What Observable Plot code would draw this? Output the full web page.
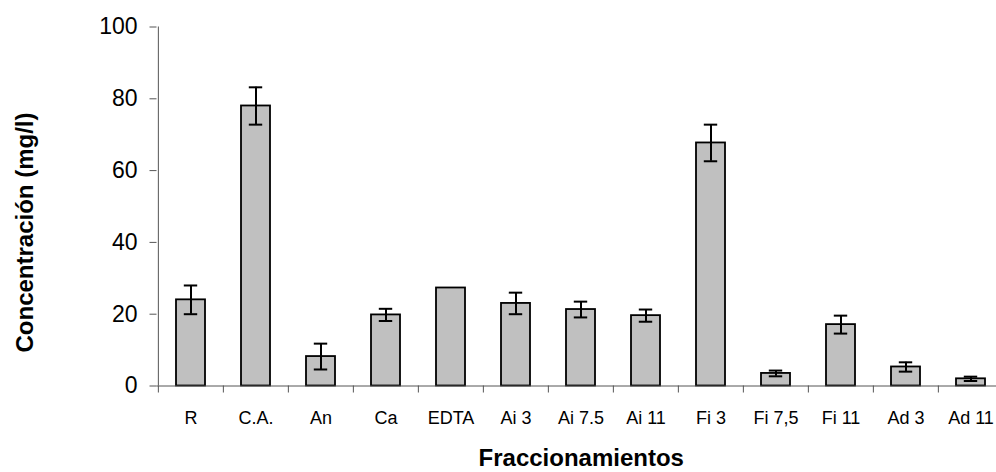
<!DOCTYPE html>
<html>
<head>
<meta charset="utf-8">
<script src="https://cdn.jsdelivr.net/npm/d3@7"></script>
<script src="https://cdn.jsdelivr.net/npm/@observablehq/plot@0.6"></script>
<style>
  html, body { margin: 0; padding: 0; background: #fff; overflow: hidden; }
  #chart { width: 996px; height: 472px; overflow: hidden; }
  svg { font-family: "Liberation Sans", Arial, sans-serif; }
</style>
</head>
<body>
<div id="chart"></div>
<script>
// Concentración media por fraccionamiento, con desviación (mg/l)
const categories = ["R", "C.A.", "An", "Ca", "EDTA", "Ai 3", "Ai 7.5", "Ai 11", "Fi 3", "Fi 7,5", "Fi 11", "Ad 3", "Ad 11"];
const values = [24, 78, 8.2, 19.8, 27.3, 23, 21.3, 19.6, 67.7, 3.5, 17.1, 5.3, 2];
const errors = [4, 5.2, 3.6, 1.7, 0, 3, 2.2, 1.7, 5.1, 0.8, 2.5, 1.3, 0.6];
const yTicks = [0, 20, 40, 60, 80, 100];

const data = categories.map((c, i) => ({cat: c, value: values[i], err: errors[i]}));
const withErr = data.filter(d => d.err > 0);

const width = 996, height = 472;
const marginLeft = 156.5, marginRight = -9, marginTop = 26.5, marginBottom = 86.5;
const step = (width - marginLeft - marginRight) / categories.length;
const axisColor = "#555";

const chart = Plot.plot({
  width, height, marginLeft, marginRight, marginTop, marginBottom,
  style: {fontFamily: "'Liberation Sans', Arial, sans-serif", background: "#fff", overflow: "hidden"},
  x: {type: "band", domain: categories, paddingInner: 0.56, paddingOuter: 0.28, axis: null},
  y: {domain: [0, 100], ticks: yTicks, axis: null},
  marks: [
    // bars
    Plot.barY(data, {x: "cat", y: "value", fill: "#c0c0c0", stroke: "#000", strokeWidth: 1.8}),
    // error bars: whiskers and caps
    Plot.ruleX(withErr, {x: "cat", y1: d => d.value - d.err, y2: d => d.value + d.err, stroke: "#000", strokeWidth: 2}),
    Plot.tickY(withErr, {x: "cat", y: d => d.value - d.err, stroke: "#000", strokeWidth: 2, insetLeft: 7.8, insetRight: 7.8}),
    Plot.tickY(withErr, {x: "cat", y: d => d.value + d.err, stroke: "#000", strokeWidth: 2, insetLeft: 7.8, insetRight: 7.8}),
    // value axis line and baseline
    Plot.ruleX([categories[0]], {x: d => d, y1: 0, y2: 100, dx: -step / 2, stroke: axisColor}),
    Plot.ruleY([0], {stroke: axisColor}),
    // y axis
    Plot.axisY({ticks: yTicks, tickSize: 7, tickPadding: 12.5, fontSize: 23, stroke: axisColor, color: "#000", label: null}),
    // category boundary ticks
    Plot.axisX({tickSize: 7, tickFormat: () => "", dx: -step / 2, stroke: axisColor, label: null}),
    Plot.axisX([categories[categories.length - 1]], {tickSize: 7, tickFormat: () => "", dx: step / 2, stroke: axisColor, label: null}),
    // category labels
    Plot.axisX({tickSize: 0, tickPadding: 25, fontSize: 18, color: "#000", label: null}),
    // axis titles
    Plot.text(["Fraccionamientos"], {frameAnchor: "bottom", dy: 80, fontSize: 24, fontWeight: "bold", fill: "#000", lineAnchor: "bottom"}),
    Plot.text(["Concentración (mg/l)"], {frameAnchor: "left", textAnchor: "middle", rotate: -90, dx: -131.5, dy: 26, fontSize: 24, fontWeight: "bold", fill: "#000"})
  ]
});

document.getElementById("chart").appendChild(chart);
</script>
</body>
</html>
